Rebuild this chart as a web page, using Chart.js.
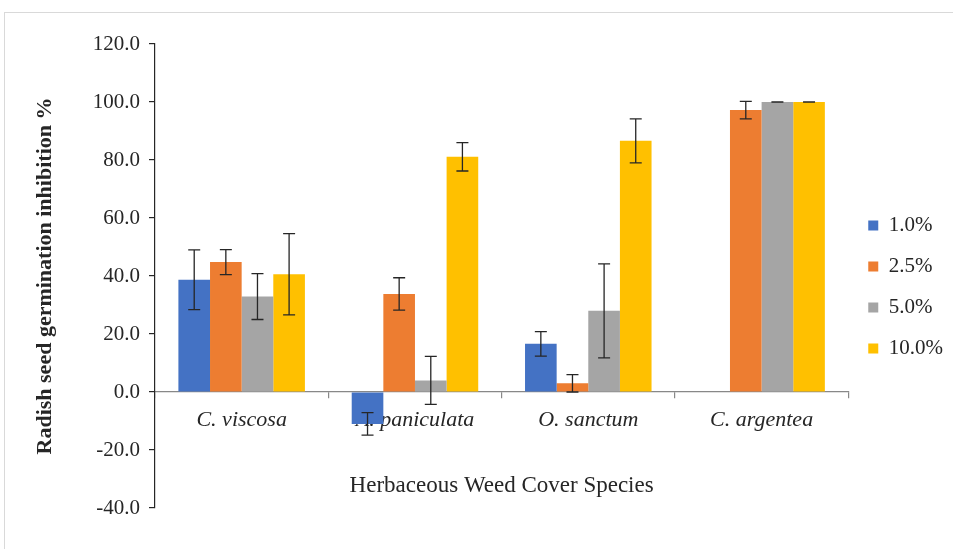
<!DOCTYPE html>
<html>
<head>
<meta charset="utf-8">
<script src="https://cdn.jsdelivr.net/npm/chart.js@4.4.1/dist/chart.umd.min.js"></script>
<style>
  html, body { margin: 0; padding: 0; background: #fff; }
  #wrap { position: relative; width: 953px; height: 549px; overflow: hidden; }
  #frame { position: absolute; left: 4px; top: 12px; width: 960px; height: 560px;
           border-left: 1px solid #d9d9d9; border-top: 1px solid #d9d9d9; pointer-events: none; }
  canvas { display: block; }
</style>
</head>
<body>
<div id="wrap">
  <canvas id="c" width="953" height="549"></canvas>
  <div id="frame"></div>
</div>
<script>
const categories = ['C. viscosa', 'A. paniculata', 'O. sanctum', 'C. argentea'];
const seriesNames = ['1.0%', '2.5%', '5.0%', '10.0%'];
const conc1 = [38.7, -11.0, 16.6, null];
const conc2 = [44.8, 33.8, 3.0, 97.2];
const conc3 = [32.9, 4.0, 28.0, 100.0];
const conc4 = [40.6, 81.1, 86.6, 100.0];
const err1 = [10.3, 3.9, 4.2, null];
const err2 = [4.3, 5.6, 3.0, 3.0];
const err3 = [7.9, 8.3, 16.2, 0];
const err4 = [14.0, 4.9, 7.6, 0];
const yTicks = [-40, -20, 0, 20, 40, 60, 80, 100, 120];
const colors = ['#4472C4', '#ED7D31', '#A5A5A5', '#FFC000'];

const values = [conc1, conc2, conc3, conc4];
const errors = [err1, err2, err3, err4];

const errorBarPlugin = {
  id: 'errorBars',
  afterDatasetsDraw(chart) {
    const ctx = chart.ctx;
    const y = chart.scales.y;
    ctx.save();
    ctx.strokeStyle = '#262626';
    ctx.lineWidth = 1.3;
    chart.data.datasets.forEach((ds, di) => {
      const meta = chart.getDatasetMeta(di);
      meta.data.forEach((bar, i) => {
        const v = ds.data[i];
        const e = errors[di][i];
        if (v === null || e === null || e === undefined) return;
        const x = bar.x;
        const yt = y.getPixelForValue(v + e);
        const yb = y.getPixelForValue(v - e);
        const cap = 6;
        ctx.beginPath();
        ctx.moveTo(x, yt); ctx.lineTo(x, yb);
        ctx.moveTo(x - cap, yt); ctx.lineTo(x + cap, yt);
        ctx.moveTo(x - cap, yb); ctx.lineTo(x + cap, yb);
        ctx.stroke();
      });
    });
    ctx.restore();
  }
};

const serif = '"Liberation Serif", "Times New Roman", serif';

new Chart(document.getElementById('c'), {
  type: 'bar',
  data: {
    labels: categories,
    datasets: seriesNames.map((n, k) => ({
      label: n,
      data: values[k],
      backgroundColor: colors[k],
      borderWidth: 0,
      categoryPercentage: 0.73,
      barPercentage: 1.0
    }))
  },
  options: {
    responsive: false,
    animation: false,
    devicePixelRatio: 1,
    layout: { padding: { left: 10, top: 44, bottom: 41, right: 0 } },
    plugins: {
      tooltip: { enabled: false },
      legend: {
        position: 'right',
        title: { display: true, text: ' ', padding: 5, font: { size: 10 } },
        labels: {
          boxWidth: 10, boxHeight: 10, padding: 20,
          color: '#262626',
          font: { family: serif, size: 21 }
        }
      }
    },
    scales: {
      x: {
        position: { y: 0 },
        offset: true,
        grid: { offset: true, drawOnChartArea: false, drawTicks: true, tickLength: 6, color: '#888888', lineWidth: 1.2 },
        border: { color: '#888888', width: 1.2 },
        ticks: {
          padding: 9,
          color: '#262626',
          font: { family: serif, size: 22, style: 'italic' }
        },
        title: {
          display: true,
          text: 'Herbaceous Weed Cover Species',
          color: '#262626',
          padding: { top: 30, bottom: 0 },
          font: { family: serif, size: 23 }
        }
      },
      y: {
        min: -40, max: 120,
        afterFit(scale) { scale.width = 145; },
        afterBuildTicks(scale) { scale.ticks = yTicks.map(v => ({ value: v })); },
        grid: { drawOnChartArea: false, drawTicks: true, tickLength: 6, color: '#262626', lineWidth: 1.2 },
        border: { color: '#262626', width: 1.2 },
        ticks: {
          padding: 9,
          color: '#262626',
          font: { family: serif, size: 21 },
          callback: v => Number(v).toFixed(1)
        },
        title: {
          display: true,
          text: 'Radish seed germination inhibition %',
          color: '#262626',
          padding: { top: 22, bottom: 0 },
          font: { family: serif, size: 22, weight: 'bold' }
        }
      }
    }
  },
  plugins: [errorBarPlugin]
});
</script>
</body>
</html>
